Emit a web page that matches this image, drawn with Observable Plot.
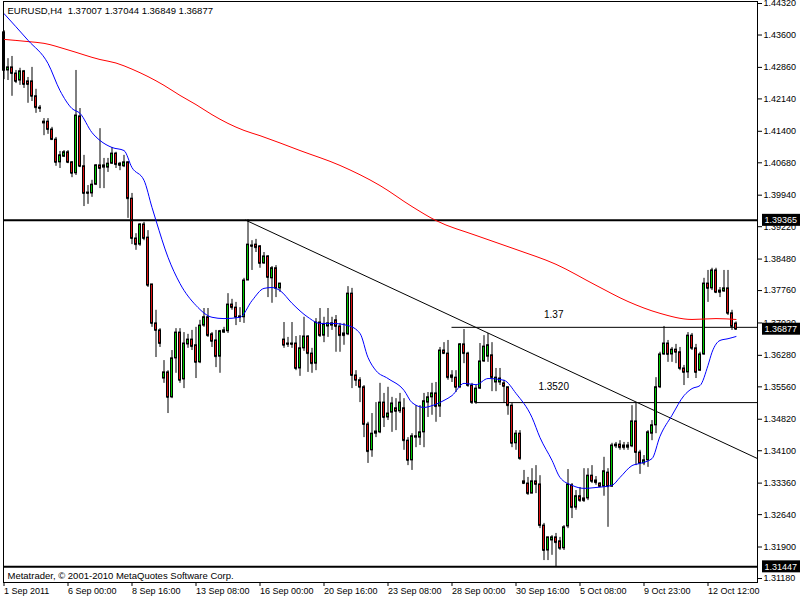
<!DOCTYPE html>
<html><head><meta charset="utf-8">
<script src="https://cdn.jsdelivr.net/npm/d3@7"></script>
<script src="https://cdn.jsdelivr.net/npm/@observablehq/plot@0.6"></script>
<style>body{margin:0;background:#fff}</style>
</head><body><div id="chart"></div>
<script>
// H4 bars, index 0..183
const openP = [
1.4366,1.4279,1.4286,1.4272,1.4256,1.4277,1.4254,1.4254,1.4220,1.4194,
1.4158,1.4162,1.4144,1.4121,1.4069,1.4082,1.4092,1.4069,1.4044,1.4174,
1.4060,1.4000,1.3998,1.4018,1.4062,1.4057,1.4057,1.4066,1.4089,1.4066,
1.4060,1.4069,1.3986,1.3895,1.3881,1.3927,1.3897,1.3790,1.3701,1.3685,
1.3575,1.3589,1.3532,1.3621,1.3680,1.3573,1.3653,1.3664,1.3651,1.3612,
1.3696,1.3715,1.3676,1.3662,1.3625,1.3680,1.3683,1.3744,1.3737,1.3717,
1.3715,1.3799,1.3879,1.3881,1.3877,1.3838,1.3854,1.3804,1.3827,1.3781,
1.3664,1.3655,1.3655,1.3655,1.3598,1.3644,1.3671,1.3632,1.3609,1.3703,
1.3673,1.3694,1.3696,1.3708,1.3694,1.3678,1.3676,1.3769,1.3582,1.3571,
1.3555,1.3470,1.3411,1.3449,1.3452,1.3520,1.3486,1.3497,1.3507,1.3500,
1.3507,1.3433,1.3388,1.3440,1.3440,1.3452,1.3520,1.3532,1.3541,1.3511,
1.3639,1.3632,1.3582,1.3577,1.3555,1.3653,1.3632,1.3559,1.3520,1.3552,
1.3614,1.3625,1.3628,1.3566,1.3566,1.3564,1.3555,1.3513,1.3427,1.3449,
1.3340,1.3335,1.3312,1.3340,1.3333,1.3239,1.3182,1.3205,1.3212,1.3203,
1.3187,1.3237,1.3331,1.3280,1.3306,1.3301,1.3301,1.3353,1.3342,1.3335,
1.3328,1.3360,1.3328,1.3420,1.3424,1.3422,1.3417,1.3420,1.3477,1.3406,
1.3381,1.3388,1.3449,1.3468,1.3555,1.3630,1.3655,1.3630,1.3641,1.3635,
1.3598,1.3589,1.3673,1.3644,1.3593,1.3630,1.3792,1.3781,1.3822,1.3776,
1.3774,1.3781,1.3724,1.37007];
const highP = [
1.4370,1.4306,1.4311,1.4279,1.4284,1.4279,1.4263,1.4286,1.4236,1.4199,
1.4169,1.4169,1.4149,1.4126,1.4094,1.4096,1.4096,1.4071,1.4279,1.4192,
1.4085,1.4016,1.4028,1.4064,1.4146,1.4078,1.4078,1.4103,1.4092,1.4069,
1.4085,1.4071,1.3998,1.3906,1.3929,1.3932,1.3913,1.3790,1.3731,1.3689,
1.3616,1.3593,1.3639,1.3689,1.3689,1.3680,1.3676,1.3685,1.3692,1.3708,
1.3735,1.3735,1.3680,1.3685,1.3685,1.3692,1.3769,1.3756,1.3749,1.3737,
1.3804,1.3938,1.3890,1.3893,1.3879,1.3863,1.3856,1.3831,1.3833,1.3792,
1.3703,1.3669,1.3703,1.3671,1.3673,1.3715,1.3673,1.3644,1.3712,1.3735,
1.3715,1.3735,1.3715,1.3719,1.3701,1.3701,1.3785,1.3781,1.3593,1.3577,
1.3559,1.3475,1.3495,1.3520,1.3564,1.3541,1.3555,1.3532,1.3529,1.3541,
1.3529,1.3440,1.3449,1.3513,1.3513,1.3541,1.3543,1.3564,1.3566,1.3646,
1.3657,1.3662,1.3593,1.3593,1.3655,1.3687,1.3635,1.3564,1.3559,1.3655,
1.3673,1.3678,1.3657,1.3598,1.3598,1.3571,1.3555,1.3518,1.3456,1.3456,
1.3365,1.3349,1.3369,1.3376,1.3353,1.3244,1.3212,1.3216,1.3221,1.3212,
1.3239,1.3367,1.3335,1.3319,1.3326,1.3369,1.3369,1.3376,1.3351,1.3337,
1.3395,1.3369,1.3427,1.3429,1.3433,1.3429,1.3429,1.3513,1.3520,1.3411,
1.3399,1.3456,1.3479,1.3577,1.3635,1.3694,1.3662,1.3646,1.3653,1.3646,
1.3605,1.3680,1.3678,1.3653,1.3635,1.3804,1.3822,1.3827,1.3827,1.3783,
1.3822,1.3822,1.3731,1.37044];
const lowP = [
1.4258,1.4256,1.4220,1.4249,1.4245,1.4238,1.4204,1.4208,1.4181,1.4183,
1.4130,1.4133,1.4119,1.4060,1.4055,1.4080,1.4066,1.4034,1.4039,1.4057,
1.3968,1.3973,1.3989,1.4016,1.4009,1.4009,1.4046,1.4064,1.4055,1.4050,
1.4057,1.3941,1.3881,1.3868,1.3877,1.3890,1.3783,1.3692,1.3623,1.3646,
1.3564,1.3495,1.3529,1.3587,1.3564,1.3552,1.3644,1.3639,1.3575,1.3609,
1.3692,1.3669,1.3646,1.3600,1.3587,1.3678,1.3678,1.3731,1.3696,1.3703,
1.3701,1.3799,1.3822,1.3863,1.3827,1.3836,1.3760,1.3747,1.3760,1.3772,
1.3644,1.3646,1.3644,1.3593,1.3580,1.3637,1.3589,1.3587,1.3593,1.3669,
1.3657,1.3669,1.3685,1.3635,1.3635,1.3651,1.3673,1.3552,1.3557,1.3520,
1.3440,1.3381,1.3395,1.3440,1.3449,1.3463,1.3479,1.3452,1.3456,1.3495,
1.3411,1.3376,1.3365,1.3417,1.3422,1.3417,1.3486,1.3491,1.3475,1.3486,
1.3632,1.3571,1.3566,1.3543,1.3552,1.3609,1.3555,1.3516,1.3516,1.3550,
1.3612,1.3612,1.3545,1.3545,1.3559,1.3518,1.3491,1.3417,1.3411,1.3388,
1.3335,1.3308,1.3312,1.3312,1.3232,1.3159,1.3159,1.3171,1.31447,1.3182,
1.3182,1.3232,1.3255,1.3274,1.3292,1.3292,1.3296,1.3335,1.3331,1.3326,
1.3306,1.3235,1.3326,1.3415,1.3411,1.3411,1.3411,1.3417,1.3376,1.3356,
1.3376,1.3372,1.3433,1.3449,1.3552,1.3628,1.3612,1.3612,1.3609,1.3593,
1.3559,1.3575,1.3639,1.3575,1.3591,1.3628,1.3749,1.3776,1.3769,1.3760,
1.3772,1.3719,1.3685,1.36849];
const closeP = [
1.4279,1.4286,1.4272,1.4254,1.4277,1.4247,1.4247,1.4220,1.4194,1.4192,
1.4162,1.4144,1.4121,1.4069,1.4085,1.4092,1.4069,1.4044,1.4176,1.4060,
1.3998,1.3998,1.4018,1.4062,1.4055,1.4062,1.4066,1.4089,1.4064,1.4062,
1.4069,1.3986,1.3895,1.3881,1.3927,1.3895,1.3788,1.3701,1.3685,1.3655,
1.3589,1.3532,1.3621,1.3680,1.3571,1.3655,1.3664,1.3648,1.3612,1.3696,
1.3715,1.3673,1.3660,1.3625,1.3683,1.3685,1.3744,1.3737,1.3715,1.3715,
1.3799,1.3881,1.3877,1.3874,1.3838,1.3854,1.3806,1.3827,1.3781,1.3792,
1.3651,1.3653,1.3653,1.3598,1.3644,1.3671,1.3632,1.3609,1.3703,1.3673,
1.3699,1.3701,1.3701,1.3694,1.3673,1.3673,1.3769,1.3582,1.3571,1.3555,
1.3470,1.3408,1.3449,1.3454,1.3520,1.3486,1.3495,1.3518,1.3500,1.3520,
1.3433,1.3388,1.3443,1.3443,1.3452,1.3523,1.3532,1.3541,1.3511,1.3639,
1.3632,1.3577,1.3577,1.3555,1.3653,1.3632,1.3559,1.3520,1.3552,1.3614,
1.3648,1.3651,1.3577,1.3577,1.3575,1.3557,1.3513,1.3427,1.3449,1.3392,
1.3335,1.3312,1.3340,1.3333,1.3239,1.3182,1.3212,1.3212,1.3200,1.3187,
1.3235,1.3333,1.3280,1.3306,1.3296,1.3296,1.3353,1.3340,1.3337,1.3328,
1.3363,1.3328,1.3422,1.3424,1.3417,1.3417,1.3422,1.3477,1.3406,1.3381,
1.3388,1.3452,1.3468,1.3555,1.3630,1.3655,1.3630,1.3641,1.3635,1.3598,
1.3589,1.3673,1.3644,1.3589,1.3630,1.3792,1.3781,1.3822,1.3772,1.3772,
1.3781,1.3724,1.3694,1.36877];

// moving averages (sampled at bar indices)
const redIdx = [0,6,10,16,24,28,32,36,40,44,48,52,56,60,64,74,84,94,102,108,118,128,138,148,156,164,172,178,183];
const redVal = [1.4350,1.4345,1.4341,1.4326,1.4304,1.4296,1.4282,1.4265,1.4245,1.4222,1.4201,1.4178,1.4158,1.4142,1.4130,1.4096,1.4062,1.4016,1.3968,1.3936,1.3902,1.3870,1.3836,1.3788,1.3751,1.3724,1.3710,1.3712,1.3710];
const blueIdx = [0,6,11,14,17,19,22,24,27,30,32,35,37,38,41,44,48,52,55,59,62,65,67,69,72,76,79,82,86,89,91,93,96,100,102,105,107,110,112,115,118,121,125,128,132,134,137,139,142,145,148,152,154,157,159,162,164,167,170,172,174,176,177,179,181,183];
const blueVal = [1.4409,1.4348,1.4295,1.4233,1.4192,1.4181,1.4137,1.4119,1.4103,1.4096,1.4057,1.4028,1.3966,1.3936,1.3852,1.3792,1.3742,1.3715,1.3712,1.3715,1.3753,1.3781,1.3783,1.3776,1.3747,1.3715,1.3701,1.3701,1.3696,1.3678,1.3623,1.3593,1.3575,1.3548,1.3520,1.3509,1.3513,1.3525,1.3536,1.3564,1.3561,1.3575,1.3571,1.3541,1.3486,1.3440,1.3388,1.3349,1.3331,1.3324,1.3326,1.3331,1.3349,1.3376,1.3381,1.3392,1.3443,1.3491,1.3536,1.3552,1.3559,1.3605,1.3635,1.3662,1.3666,1.3671];

// drawn objects
const levelPrice = [1.39365, 1.31447];
const hlinePrice = [1.3692, 1.3520];
const hlineFrom = [112, 118];
const hlineText = ["1.37", "1.3520"];
const hlineTextIdx = [135, 133.6];
const hlineTextPrice = [1.3720, 1.3555];
const trendIdx = [60.4, 188.4];
const trendPrice = [1.3937, 1.3392];
const tagPrice = [1.39365, 1.31447, 1.36877];

// axes
const xTickIdx = [0,16,32,48,64,80,96,112,128,144,160,176];
const xTickLabels = ["1 Sep 2011","6 Sep 00:00","8 Sep 16:00","13 Sep 08:00","16 Sep 00:00","20 Sep 16:00","23 Sep 08:00","28 Sep 00:00","30 Sep 16:00","5 Oct 08:00","9 Oct 23:00","12 Oct 12:00"];
const yTicks = [1.44320,1.43600,1.42860,1.42140,1.41400,1.40680,1.39940,1.39220,1.38480,1.37760,1.37020,1.36280,1.35560,1.34820,1.34100,1.33360,1.32640,1.31900,1.31180];

const titleText = "EURUSD,H4\u00a0\u00a01.37007 1.37044 1.36849 1.36877";
const captionText = "Metatrader, \u00a9 2001-2010 MetaQuotes Software Corp.";

const bars = openP.map((o, i) => ({i, open: o, high: highP[i], low: lowP[i], close: closeP[i]}));
const redMA = redIdx.map((i, k) => ({i, v: redVal[k]}));
const blueMA = blueIdx.map((i, k) => ({i, v: blueVal[k]}));
const hlines = hlinePrice.map((p, k) => ({p, from: hlineFrom[k]}));
const hlabels = hlineText.map((t, k) => ({t, i: hlineTextIdx[k], p: hlineTextPrice[k]}));
const trend = trendIdx.map((i, k) => ({i, v: trendPrice[k]}));
const tags = tagPrice.map(v => ({v}));

const XMAX = 188.375;
const pxPerPrice = 4376;
const bull = "#00c800", bear = "#dd1111";

const chart = Plot.plot({
  width: 800, height: 600,
  marginLeft: 3, marginRight: 43, marginTop: 1, marginBottom: 18,
  x: {type: "linear", domain: [-0.125, XMAX], label: null},
  y: {domain: [1.31089, 1.44366], label: null},
  style: {fontFamily: "'Liberation Sans', Arial, sans-serif", fontSize: "9px", background: "#fff", color: "#000"},
  marks: [
    Plot.axisY(yTicks, {anchor: "right", tickSize: 4, tickPadding: 2, tickFormat: d => d.toFixed(5), label: null, fontSize: 9}),
    Plot.axisX(xTickIdx, {anchor: "bottom", tickSize: 4, tickPadding: 1, textAnchor: "start", tickFormat: d => xTickLabels[xTickIdx.indexOf(d)], label: null, fontSize: 9}),
    Plot.ruleY(hlines, {y: "p", x1: "from", x2: XMAX, stroke: "#000", strokeWidth: 1}),
    Plot.line(trend, {x: "i", y: "v", stroke: "#000", strokeWidth: 1}),
    Plot.ruleX(bars, {x: "i", y1: "low", y2: "high", stroke: "#000", strokeWidth: 1}),
    Plot.rect(bars, {x1: d => d.i - 0.25, x2: d => d.i + 0.25, y1: "open", y2: "close",
      fill: d => d.close >= d.open ? bull : bear, stroke: "#000", strokeWidth: 1}),
    Plot.ruleY(bars, {y: "close", x1: d => d.i - 0.25, x2: d => d.i + 0.25, stroke: "#000", strokeWidth: 1}),
    Plot.ruleY(levelPrice, {stroke: "#000", strokeWidth: 2}),
    Plot.line(redMA, {x: "i", y: "v", stroke: "#ff0000", strokeWidth: 1, curve: "monotone-x"}),
    Plot.line(blueMA, {x: "i", y: "v", stroke: "#0000ff", strokeWidth: 1, curve: "monotone-x"}),
    Plot.text(hlabels, {x: "i", y: "p", text: "t", textAnchor: "start", fill: "#000", fontSize: 10}),
    Plot.text([titleText], {frameAnchor: "top-left", text: d => d, dx: 4, dy: 9.5, textAnchor: "start", lineAnchor: "middle", fill: "#000", fontSize: 9.5}),
    Plot.text([captionText], {frameAnchor: "bottom-left", text: d => d, dx: 4, dy: -7, textAnchor: "start", lineAnchor: "middle", fill: "#000", fontSize: 9.5}),
    Plot.frame({stroke: "#000", strokeWidth: 1}),
    Plot.rect(tags, {x1: 189.625, x2: 199.125, y1: d => d.v - 6 / pxPerPrice, y2: d => d.v + 6 / pxPerPrice, fill: "#000"}),
    Plot.text(tags, {x: 190.125, y: "v", text: d => d.v.toFixed(5), textAnchor: "start", fill: "#fff", fontSize: 9})
  ]
});
document.getElementById("chart").append(chart);
</script></body></html>
